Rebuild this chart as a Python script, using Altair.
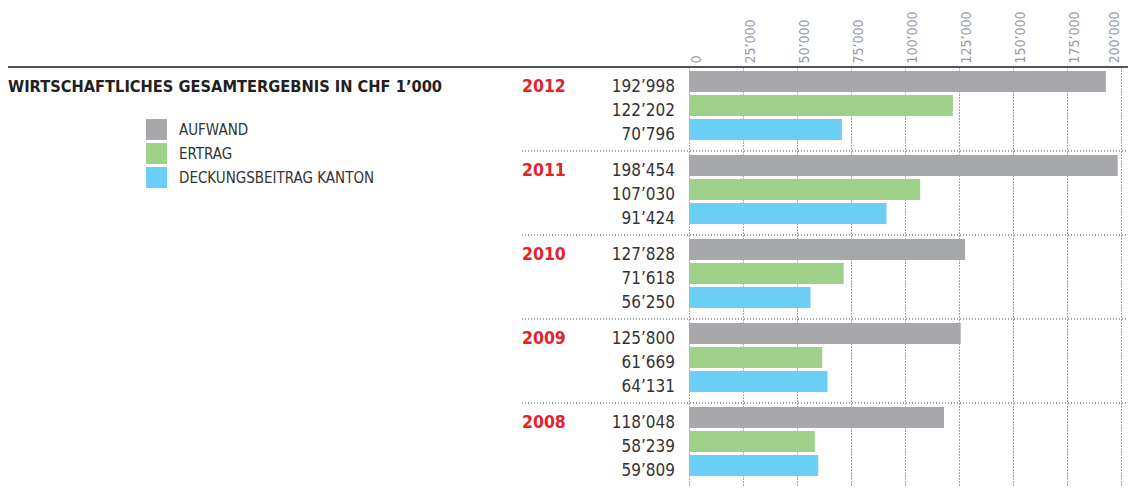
import altair as alt
import pandas as pd

years = ["2012", "2011", "2010", "2009", "2008"]
series = ["AUFWAND", "ERTRAG", "DECKUNGSBEITRAG KANTON"]
aufwand = [192998, 198454, 127828, 125800, 118048]
ertrag = [122202, 107030, 71618, 61669, 58239]
deckung = [70796, 91424, 56250, 64131, 59809]
colors = ["#a7a8ab", "#9fd08a", "#6bcff5"]
tick_values = [0, 25000, 50000, 75000, 100000, 125000, 150000, 175000, 200000]
title_text = "WIRTSCHAFTLICHES GESAMTERGEBNIS IN CHF 1\u2019000"

FONT = "DejaVu Sans Condensed, sans-serif"

GROUP = 3.5
rows = []
for g, yr in enumerate(years):
    for j, (s, vals) in enumerate(zip(series, [aufwand, ertrag, deckung])):
        v = vals[g]
        top = g * GROUP + j + 4 / 24
        rows.append(dict(year=yr, series=s, value=v, top=top, bot=top + 21 / 24,
                         label=f"{v:,}".replace(",", "\u2019")))
df = pd.DataFrame(rows)
df_years = pd.DataFrame({"year": years, "u": [g * GROUP + 25 / 24 for g in range(len(years))]})
df_sep = pd.DataFrame({"u": [g * GROUP for g in range(1, len(years))]})
df_top = pd.DataFrame({"u": [0.0]})
df_title = pd.DataFrame({"t": [title_text]})

yscale = alt.Scale(domain=[0, 17.5], range=[59, 479])
xscale = alt.Scale(domain=[0, 200000], range=[681, 1113])

xaxis = alt.Axis(
    orient="top", offset=-59, domain=False, ticks=False, grid=True,
    gridDash=[1, 2], gridColor="#444", gridWidth=1,
    values=tick_values, labelAngle=-90, labelAlign="left",
    labelBaseline={"condition": {"test": "datum.value >= 200000", "value": "bottom"},
                   "value": "top"},
    labelPadding=4, labelFont=FONT, labelFontSize=14, labelColor="#9a9a9a",
    labelOverlap=False, labelFlush=False, labelBound=False, title=None,
    labelExpr="replace(format(datum.value, ','), ',', '\u2019')",
)

bars = alt.Chart(df).mark_rect().encode(
    x=alt.X("value:Q", scale=xscale, axis=xaxis),
    x2=alt.datum(0),
    y=alt.Y("top:Q", scale=yscale, axis=None),
    y2="bot:Q",
    color=alt.Color(
        "series:N",
        scale=alt.Scale(domain=series, range=colors),
        legend=alt.Legend(
            orient="none", legendX=138, legendY=111, title=None,
            symbolType="square", symbolSize=441, symbolStrokeWidth=0,
            symbolOpacity=1, labelFont=FONT, labelFontSize=15,
            labelColor="#333", labelOffset=12, rowPadding=3, padding=0,
            labelLimit=400,
        ),
    ),
)

value_labels = alt.Chart(df).mark_text(
    align="right", baseline="alphabetic", font=FONT, fontSize=17, color="#333"
).encode(
    x=alt.value(667),
    y=alt.Y("bot:Q", scale=yscale, axis=None),
    text="label:N",
)

year_labels = alt.Chart(df_years).mark_text(
    align="left", baseline="alphabetic", font=FONT, fontWeight="bold",
    fontSize=17.5, color="#e4222b"
).encode(
    x=alt.value(514),
    y=alt.Y("u:Q", scale=yscale, axis=None),
    text="year:N",
)

seps = alt.Chart(df_sep).mark_rule(strokeDash=[1, 2], color="#444", strokeWidth=1).encode(
    x=alt.value(514), x2=alt.value(1120), y=alt.Y("u:Q", scale=yscale, axis=None)
)

top_line = alt.Chart(df_top).mark_rule(color="#555", strokeWidth=2).encode(
    x=alt.value(0), x2=alt.value(1120), y=alt.Y("u:Q", scale=yscale, axis=None)
)

title = alt.Chart(df_title).mark_text(
    align="left", baseline="alphabetic", font=FONT, fontWeight="bold",
    fontSize=16.3, color="#231f20"
).encode(x=alt.value(0), y=alt.value(84), text="t:N")

chart = alt.layer(seps, top_line, bars, value_labels, year_labels, title).properties(
    width=1120, height=480, padding=0,
    autosize=alt.AutoSizeParams(type="none"),
).configure_view(stroke=None)

chart.save("out.html", embed_options={"renderer": "svg", "actions": False})
